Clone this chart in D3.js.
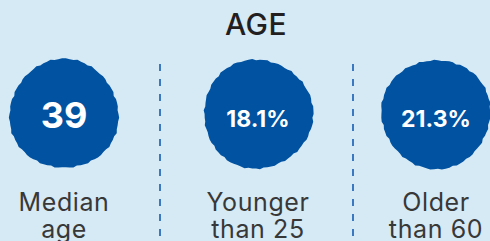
<!DOCTYPE html>
<html>
<head>
<meta charset="utf-8">
<script src="https://cdnjs.cloudflare.com/ajax/libs/d3/7.8.5/d3.min.js"></script>
<style>
  html, body { margin: 0; padding: 0; background: #d6eaf6; }
  svg { display: block; }
</style>
</head>
<body>
<script>
// chart data
var title = 'AGE';
var values = ['39', '18.1%', '21.3%'];
var labels = [['Median', 'age'], ['Younger', 'than 25'], ['Older', 'than 60']];
var valueSizes = [36, 23, 23];

var width = 490, height = 241;
var svg = d3.select('body').append('svg')
    .attr('width', width).attr('height', height);

svg.append('rect').attr('width', width).attr('height', height).attr('fill', '#d6eaf6');

// column positions (picture is cropped, so not evenly spaced)
var x = d3.scaleOrdinal().domain(d3.range(values.length)).range([64, 258, 436]);
var cy = 114, r = 54.5;

svg.append('text')
    .attr('x', 256).attr('y', 35)
    .attr('text-anchor', 'middle')
    .style('font-family', 'Inter, Lato, sans-serif')
    .style('font-weight', 500)
    .style('font-size', '30px')
    .style('letter-spacing', '0.5px')
    .style('fill', '#231f20')
    .text(title);

// dashed dividers
[160, 353].forEach(function (dx) {
    svg.append('line')
        .attr('x1', dx).attr('x2', dx)
        .attr('y1', 64).attr('y2', height)
        .attr('stroke', '#3b78bf')
        .attr('stroke-width', 2)
        .attr('stroke-dasharray', '7,8');
});

// slightly rough brush-like blob
function blob(cx, cy, r, k) {
    var pts = d3.range(0, 90).map(function (i) {
        var a = i / 90 * Math.PI * 2;
        var rr = r + 0.9 * Math.sin(a * 3 + k) + 0.5 * Math.sin(a * 23 + 2 * k) + 0.35 * Math.sin(a * 41 + k);
        return [cx + rr * Math.cos(a), cy + rr * Math.sin(a)];
    });
    return d3.line().curve(d3.curveLinearClosed)(pts);
}

var g = svg.selectAll('g.col').data(values).enter().append('g').attr('class', 'col');

g.append('path')
    .attr('d', function (d, i) { return blob(x(i), cy, r, i * 1.7); })
    .attr('fill', '#0152a0');

g.append('text')
    .attr('x', function (d, i) { return x(i); })
    .attr('y', function (d, i) { return i === 0 ? 128 : 127; })
    .attr('text-anchor', 'middle')
    .style('font-family', 'Inter, Lato, sans-serif')
    .style('font-weight', 700)
    .style('font-size', function (d, i) { return valueSizes[i] + 'px'; })
    .style('fill', '#fff')
    .text(function (d) { return d; });

g.each(function (d, i) {
    var t = d3.select(this).append('text')
        .attr('text-anchor', 'middle')
        .style('font-family', 'Inter, Lato, sans-serif')
        .style('font-weight', 400)
        .style('font-size', '25px')
        .style('letter-spacing', '0.6px')
        .style('fill', '#383838');
    labels[i].forEach(function (line, j) {
        t.append('tspan').attr('x', x(i)).attr('y', 211 + j * 27).text(line);
    });
});
</script>
</body>
</html>
